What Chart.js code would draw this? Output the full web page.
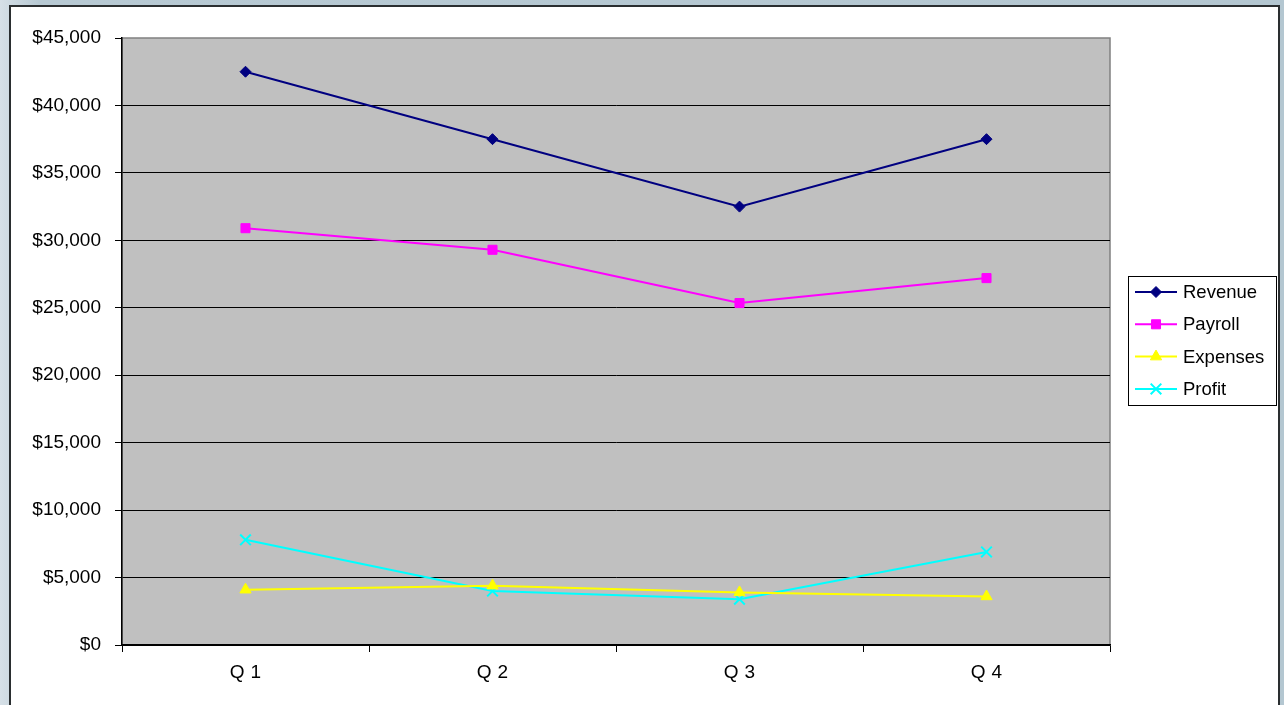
<!DOCTYPE html>
<html>
<head>
<meta charset="utf-8">
<script src="https://cdn.jsdelivr.net/npm/chart.js@4/dist/chart.umd.min.js"></script>
<style>
  html, body { margin: 0; padding: 0; }
  body {
    width: 1284px; height: 705px; overflow: hidden; position: relative;
    background: linear-gradient(to right, #d6e0e7 0px, #b7c9d3 40px, #b4c7d1 100%);
  }
  #frame {
    position: absolute; left: 9px; top: 5px; width: 1271px; height: 720px;
    background: #fff; border: 2px solid #2a2e30; box-sizing: border-box;
  }
  #c { position: absolute; left: 0; top: 0; }
</style>
</head>
<body>
<div id="frame"></div>
<canvas id="c" width="1284" height="705"></canvas>
<script>
// quarterly figures
const quarters = ["Q1", "Q2", "Q3", "Q4"];
const revenue = [42500, 37500, 32500, 37500];
const payroll = [30900, 29300, 25350, 27200];
const expenses = [4100, 4400, 3900, 3600];
const profit = [7800, 4000, 3400, 6900];
const yTicks = [0, 5000, 10000, 15000, 20000, 25000, 30000, 35000, 40000, 45000];

const FAMILY = "'Liberation Sans', Arial, sans-serif";
const AXIS_FONT = { family: FAMILY, size: 19 };

function series(label, data, color, style, radius) {
  return {
    label, data,
    borderColor: color, backgroundColor: color,
    borderWidth: 2,
    pointStyle: style, pointRadius: radius, pointHoverRadius: radius,
    pointBorderColor: color, pointBackgroundColor: color,
    pointBorderWidth: style === "crossRot" ? 2 : 1,
    tension: 0,
  };
}

// gray plot background with a thin gray frame
const plotBg = {
  id: "plotBg",
  beforeDraw(chart) {
    const { ctx, chartArea: a } = chart;
    ctx.letterSpacing = "0px";
    ctx.save();
    ctx.fillStyle = "#c0c0c0";
    ctx.fillRect(a.left, a.top, a.right - a.left, a.bottom - a.top);
    ctx.strokeStyle = "#808080";
    ctx.lineWidth = 1.5;
    ctx.strokeRect(a.left, a.top, a.right - a.left, a.bottom - a.top);
    ctx.restore();
  },
  // x labels (z=1) are drawn after the datasets; space them out like the original
  afterDatasetsDraw(chart) {
    chart.ctx.letterSpacing = "6px";
  },
};

// excel-like legend: line with marker in the middle
const sideLegend = {
  id: "sideLegend",
  afterDraw(chart) {
    const ctx = chart.ctx;
    ctx.letterSpacing = "0px";
    const box = { x: 1128.5, y: 276.5, w: 148, h: 129 };
    ctx.save();
    ctx.fillStyle = "#fff";
    ctx.fillRect(box.x, box.y, box.w, box.h);
    ctx.strokeStyle = "#000";
    ctx.lineWidth = 1;
    ctx.strokeRect(box.x, box.y, box.w, box.h);
    chart.data.datasets.forEach((ds, i) => {
      const y = 292 + i * 32.3;
      ctx.strokeStyle = ds.borderColor;
      ctx.lineWidth = 2;
      ctx.beginPath();
      ctx.moveTo(1135, y);
      ctx.lineTo(1177, y);
      ctx.stroke();
      ctx.fillStyle = ds.pointBackgroundColor;
      ctx.strokeStyle = ds.pointBorderColor;
      ctx.lineWidth = ds.pointBorderWidth;
      Chart.helpers.drawPoint(ctx, { pointStyle: ds.pointStyle, radius: ds.pointRadius, rotation: 0, borderWidth: ds.pointBorderWidth }, 1156, y);
      ctx.fillStyle = "#000";
      ctx.font = `18.5px ${FAMILY}`;
      ctx.textAlign = "left";
      ctx.textBaseline = "middle";
      ctx.fillText(ds.label, 1183, y + 1);
    });
    ctx.restore();
  },
};

new Chart(document.getElementById("c"), {
  type: "line",
  data: {
    labels: quarters,
    datasets: [
      series("Revenue", revenue, "#000080", "rectRot", 5.5),
      series("Payroll", payroll, "#ff00ff", "rect", 6.4),
      series("Expenses", expenses, "#ffff00", "triangle", 6.5),
      series("Profit", profit, "#00ffff", "crossRot", 7.5),
    ],
  },
  options: {
    responsive: false,
    animation: false,
    events: [],
    layout: { padding: { top: 38, right: 174, bottom: 0, left: 0 } },
    plugins: { legend: { display: false }, tooltip: { enabled: false } },
    scales: {
      x: {
        offset: true,
        afterFit: (s) => { s.height = 60; },
        grid: { offset: true, drawOnChartArea: false, drawTicks: true, tickLength: 7, color: "#000", lineWidth: 1 },
        border: { color: "#000", width: 1.5 },
        ticks: { color: "#000", font: AXIS_FONT, padding: 9, maxRotation: 0, labelOffset: 3, z: 1 },
      },
      y: {
        min: 0, max: 45000,
        afterFit: (s) => { s.width = 122; },
        afterBuildTicks: (s) => { s.ticks = yTicks.map((v) => ({ value: v })); },
        grid: {
          color: (c) => (c.tick && c.tick.value === 45000 ? "rgba(0,0,0,0)" : "#000"),
          tickColor: "#000",
          tickLength: 7,
          lineWidth: 1,
        },
        border: { color: "#000", width: 1.5 },
        ticks: {
          color: "#000", font: AXIS_FONT, padding: 14,
          callback: (v) => "$" + Number(v).toLocaleString("en-US"),
        },
      },
    },
  },
  plugins: [plotBg, sideLegend],
});
</script>
</body>
</html>
